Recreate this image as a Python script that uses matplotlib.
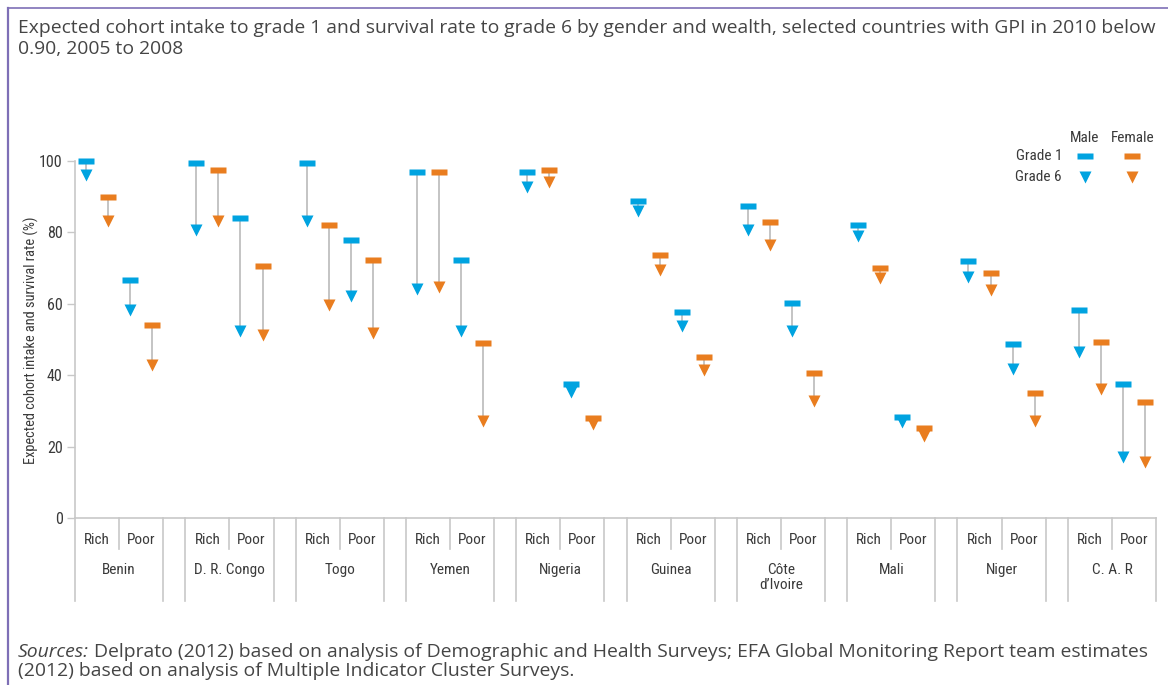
import numpy as np
import matplotlib
matplotlib.use("Agg")
import matplotlib.pyplot as plt
from matplotlib.transforms import blended_transform_factory

countries = ["Benin", "D. R. Congo", "Togo", "Yemen", "Nigeria", "Guinea",
             "Côte\nd’Ivoire", "Mali", "Niger", "C. A. R"]
wealth = ["Rich", "Poor"]

# grade 1 intake / grade 6 survival, in %
rich_male_g1 = [100, 99.3, 99.3, 96.8, 96.8, 88.9, 87.5, 82.2, 72.1, 58.4]
rich_male_g6 = [96.0, 80.6, 83.3, 64.2, 92.7, 86.0, 80.8, 79.0, 67.6, 46.6]
rich_female_g1 = [90.0, 97.6, 82.2, 96.8, 97.6, 73.8, 82.8, 69.9, 68.5, 49.2]
rich_female_g6 = [83.3, 83.3, 59.7, 64.8, 94.2, 69.6, 76.5, 67.2, 64.0, 36.1]
poor_male_g1 = [66.8, 83.9, 78.0, 72.4, 37.5, 57.6, 60.1, 28.2, 48.7, 37.5]
poor_male_g6 = [58.2, 52.5, 62.3, 52.5, 35.4, 53.7, 52.5, 27.0, 41.7, 17.2]
poor_female_g1 = [54.0, 70.5, 72.4, 49.1, 28.1, 45.0, 40.5, 25.2, 35.0, 32.4]
poor_female_g6 = [42.8, 51.3, 51.7, 27.1, 26.3, 41.5, 32.9, 23.0, 27.2, 15.7]

title_lines = ["Expected cohort intake to grade 1 and survival rate to grade 6 by gender and wealth, "
               "selected countries with GPI in 2010 below",
               "0.90, 2005 to 2008"]
source_lines = ["Delprato (2012) based on analysis of Demographic and Health Surveys; "
                "EFA Global Monitoring Report team estimates",
                "(2012) based on analysis of Multiple Indicator Cluster Surveys."]

BLUE = "#00a3e0"
ORANGE = "#e97d1f"
LINE_GREY = "#c4c4c4"
AXIS_GREY = "#c8c8c8"
TEXT = "#3a3a3a"
TITLE = "#454545"
FRAME = "#7e6fb6"

NARROW = ["Liberation Sans Narrow", "Roboto Condensed", "DejaVu Sans"]
PLAIN = ["Open Sans", "DejaVu Sans"]

W, H = 1168, 685
fig = plt.figure(figsize=(W / 100, H / 100), dpi=100)


def fx(px):
    return px / W


def fy(py):
    return 1 - py / H


ax = fig.add_axes([fx(75), fy(518), fx(1156) - fx(75), fy(161) - fy(518)])

# flat bar marker for grade 1
bar = [(-1, -0.42), (1, -0.42), (1, 0.42), (-1, 0.42), (-1, -0.42)]

idx = np.arange(len(countries)) * 5
series = [
    (0.5, rich_male_g1, rich_male_g6, BLUE),
    (1.5, rich_female_g1, rich_female_g6, ORANGE),
    (2.5, poor_male_g1, poor_male_g6, BLUE),
    (3.5, poor_female_g1, poor_female_g6, ORANGE),
]
for off, g1, g6, col in series:
    x = idx + off
    ax.vlines(x, g6, g1, color=LINE_GREY, lw=1.4, zorder=1)
    ax.plot(x, g6, ls="none", marker="v", ms=8, color=col, mec="none",
            zorder=3, clip_on=False)
    ax.plot(x, g1, ls="none", marker=bar, ms=11.5, color=col, mec="none",
            zorder=4, clip_on=False)

ax.set_xlim(0, 49)
ax.set_ylim(0, 100)
for s in ["top", "right"]:
    ax.spines[s].set_visible(False)
for s in ["left", "bottom"]:
    ax.spines[s].set_color(AXIS_GREY)
    ax.spines[s].set_linewidth(1.2)
ax.set_xticks([])
ax.set_yticks(np.arange(0, 101, 20))
ax.tick_params(axis="y", length=6, width=1, color=AXIS_GREY, pad=3,
               labelcolor=TEXT, labelsize=11.5)
for lab in ax.get_yticklabels():
    lab.set_family(NARROW)

# category axis: separators and labels
trans = blended_transform_factory(ax.transData, ax.transAxes)
for i, base in enumerate(idx):
    for xx in (base, base + 4):
        ax.plot([xx, xx], [0, -0.233], transform=trans, clip_on=False,
                color=AXIS_GREY, lw=1.2)
    ax.plot([base + 2, base + 2], [0, -0.087], transform=trans, clip_on=False,
            color=AXIS_GREY, lw=1.2)
    for j, w in enumerate(wealth):
        ax.text(base + 1 + 2 * j, -0.062, w, transform=trans, ha="center",
                va="center", fontsize=11, color=TEXT, family=NARROW)
    ax.text(base + 2, -0.127, countries[i], transform=trans, ha="center",
            va="top", fontsize=11, color=TEXT, family=NARROW, linespacing=1.1)

fig.text(fx(31), fy(340), "Expected cohort intake and survival rate (%)",
         rotation=90, ha="center", va="center", fontsize=10.4, color=TEXT,
         family=NARROW)

# legend
fig.text(fx(1085), fy(141.5), "Male", ha="center", va="baseline",
         fontsize=11, color=TEXT, family=NARROW)
fig.text(fx(1133), fy(141.5), "Female", ha="center", va="baseline",
         fontsize=11, color=TEXT, family=NARROW)
fig.text(fx(1062), fy(156), "Grade 1", ha="right", va="center",
         fontsize=11, color=TEXT, family=NARROW)
fig.text(fx(1062), fy(177), "Grade 6", ha="right", va="center",
         fontsize=11, color=TEXT, family=NARROW)
for lx, col in ((1085, BLUE), (1132, ORANGE)):
    fig.add_artist(plt.Line2D([fx(lx)], [fy(156)], ls="none", marker=bar,
                              ms=11.5, color=col, mec="none",
                              transform=fig.transFigure))
    fig.add_artist(plt.Line2D([fx(lx)], [fy(177)], ls="none", marker="v",
                              ms=8, color=col, mec="none",
                              transform=fig.transFigure))

# title
for k, line in enumerate(title_lines):
    fig.text(fx(18), fy(33.3 + 20.5 * k), line, ha="left", va="baseline",
             fontsize=13.85, color=TITLE, family=PLAIN)

# sources
src = fig.text(fx(18), fy(656.7), "Sources:", ha="left", va="baseline",
               fontsize=13.95, color=TITLE, family=PLAIN, style="italic")
ax.annotate(" " + source_lines[0], xy=(1, 0), xycoords=src, ha="left",
            va="bottom", fontsize=13.95, color=TITLE, family=PLAIN,
            annotation_clip=False)
fig.text(fx(18), fy(675.5), source_lines[1], ha="left", va="baseline",
         fontsize=13.95, color=TITLE, family=PLAIN)

# frame lines
fig.add_artist(plt.Line2D([fx(7.5), fx(7.5)], [0, fy(8)], color=FRAME, lw=1.6,
                          transform=fig.transFigure))
fig.add_artist(plt.Line2D([fx(7.5), 1], [fy(8), fy(8)], color=FRAME, lw=1.2,
                          transform=fig.transFigure))

fig.savefig("out.png", dpi=100)
